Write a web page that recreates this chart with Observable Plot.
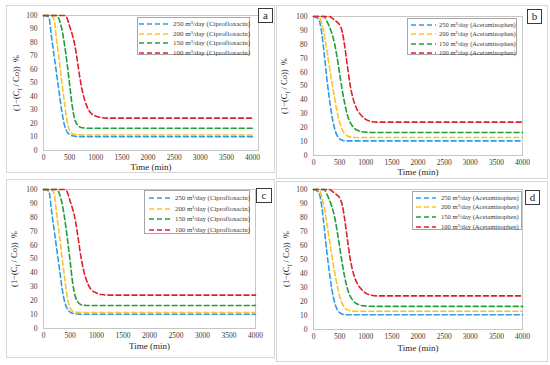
<!DOCTYPE html>
<html><head><meta charset="utf-8">
<script src="https://cdn.jsdelivr.net/npm/d3@7"></script>
<script src="https://cdn.jsdelivr.net/npm/@observablehq/plot@0.6"></script>
<style>
body{margin:0;width:550px;height:365px;background:#fff;position:relative;overflow:hidden;font-family:"Liberation Serif","Times New Roman",serif;}
.panel{position:absolute;border:1px solid #d6d6d6;box-sizing:border-box;}
.chart{position:absolute;}
.chart svg{overflow:visible;}
.legend{position:absolute;border:1px solid #a6a6a6;background:#fff;box-sizing:border-box;color:#3a3a3a;}
.row{position:absolute;left:0;white-space:nowrap;}
.tag{position:absolute;border:1px solid #3a3a3a;box-sizing:border-box;background:#fff;text-align:center;font-size:11px;color:#262626;}
.ylab{position:absolute;white-space:nowrap;font-size:8.5px;color:#262626;transform:translate(-50%,-50%) rotate(-90deg);}
</style>
</head><body>
<script>
// ---- data ----
const times = [0, 100, 150, 200, 250, 300, 350, 400, 450, 500, 550, 600, 650, 700, 750, 800, 850, 900, 1000, 1100, 1200, 1500, 4000];
const flowRates = ["250", "200", "150", "100"];
const drugs = ["Ciprofloxacin", "Acetaminophen"];
// Ciprofloxacin (panels a, c)
const cipro250 = [100, 99, 85, 71, 57, 43, 29, 19, 14, 11.8, 10.9, 10.5, 10.4, 10.3, 10.3, 10.3, 10.3, 10.3, 10.3, 10.3, 10.3, 10.3, 10.3];
const cipro200 = [100, 100, 100, 97, 82, 67, 51, 36, 22, 15, 12.4, 11.8, 11.7, 11.6, 11.5, 11.5, 11.5, 11.5, 11.5, 11.5, 11.5, 11.5, 11.5];
const cipro150 = [100, 100, 100, 100, 100, 97, 90, 79, 65, 49, 33, 23, 19, 17.3, 16.8, 16.6, 16.5, 16.5, 16.5, 16.5, 16.5, 16.5, 16.5];
const cipro100 = [100, 100, 100, 100, 100, 100, 100, 100, 98, 92, 86, 78, 66, 53, 43, 36, 31, 28, 25.5, 24.4, 24, 24, 24];
// Acetaminophen (panels b, d)
const acet250 = [100, 98, 90, 75, 57, 42, 29, 20, 14.5, 12, 11, 10.6, 10.5, 10.5, 10.5, 10.5, 10.5, 10.5, 10.5, 10.5, 10.5, 10.5, 10.5];
const acet200 = [100, 100, 96, 88, 77, 65, 53, 42, 32, 24, 18.5, 15.5, 14, 13.3, 13.1, 13, 13, 13, 13, 13, 13, 13, 13];
const acet150 = [100, 100, 100, 100, 97, 93, 88, 81, 71, 59, 47, 37, 29, 24, 21, 19, 18, 17.3, 16.8, 16.6, 16.5, 16.5, 16.5];
const acet100 = [100, 100, 100, 100, 100, 100, 99, 97.5, 96, 94, 89, 78, 64, 51, 42, 36, 32, 29.5, 26, 24.5, 24, 24, 24];
const xTicks = [0, 500, 1000, 1500, 2000, 2500, 3000, 3500, 4000];
const yTicks = [0, 10, 20, 30, 40, 50, 60, 70, 80, 90, 100];
const panelLetters = ["a", "b", "c", "d"];
const colors = ["#2f9de6", "#ffc222", "#1f9e3a", "#e0202a"];

const seriesByDrug = {
  Ciprofloxacin: [cipro250, cipro200, cipro150, cipro100],
  Acetaminophen: [acet250, acet200, acet150, acet100]
};
function rowsFor(drug){
  const out = [];
  seriesByDrug[drug].forEach((vals, i) => {
    const name = `${flowRates[i]} m³/day (${drug})`;
    vals.forEach((v, j) => out.push({t: times[j], v, series: name}));
  });
  return out;
}

// ---- layout ----
const panels = [
  {drug:drugs[0], left:6, top:5, w:269, h:168, x0:43, x1:252, fr:258, y100:15, y0:150, timeDy:19.5, ylabX:17,
   leg:{l:137,t:17,w:113,h:38,rows:[6,15.5,25,34.5],sample:[1,31],textX:35,fs:7}, tag:{l:258,t:8,w:15,h:15}},
  {drug:drugs[1], left:276, top:5, w:272, h:174, x0:313, x1:522, fr:522, y100:16, y0:155, timeDy:19, ylabX:285,
   leg:{l:407,t:18,w:110,h:37,rows:[6,15,24.5,33.5],sample:[3,28],textX:31,fs:6.5}, tag:{l:527,t:9,w:15,h:15}},
  {drug:drugs[0], left:6, top:179, w:269, h:179, x0:43, x1:255, fr:255, y100:189, y0:328, timeDy:20, ylabX:15,
   leg:{l:144,t:190,w:106,h:44,rows:[7,17.5,28,38.5],sample:[4,26],textX:30,fs:6.8}, tag:{l:256,t:188,w:16,h:15}},
  {drug:drugs[1], left:276, top:181, w:272, h:181, x0:313, x1:522, fr:522, y100:189, y0:329, timeDy:21, ylabX:287,
   leg:{l:412,t:191,w:110,h:39,rows:[5.5,15,25,34.5],sample:[3,23],textX:28,fs:6.6}, tag:{l:525,t:190,w:15,h:15}}
];

const font = '"Liberation Serif","Times New Roman",serif';

panels.forEach((p, k) => {
  const box = document.createElement("div");
  box.className = "panel";
  Object.assign(box.style, {left:p.left+"px", top:p.top+"px", width:p.w+"px", height:p.h+"px"});
  document.body.appendChild(box);

  const xMaxDomain = 4000 * (p.fr - p.x0) / (p.x1 - p.x0);
  const seriesNames = flowRates.map(f => `${f} m³/day (${p.drug})`);
  const chart = Plot.plot({
    width: p.w, height: p.h,
    marginLeft: p.x0 - p.left,
    marginRight: p.left + p.w - p.fr,
    marginTop: p.y100 - p.top,
    marginBottom: p.top + p.h - p.y0,
    style: {fontFamily: font, fontSize: "7.5px", color: "#3a3a3a", background: "transparent"},
    x: {domain: [0, xMaxDomain]},
    y: {domain: [0, 100]},
    color: {domain: seriesNames, range: colors},
    marks: [
      Plot.frame({stroke: "#c6c6c6"}),
      Plot.axisX({ticks: xTicks, tickSize: 0, tickPadding: 4.5, tickFormat: d3.format("d"), label: null}),
      Plot.axisY({ticks: yTicks, tickSize: 0, tickPadding: 6, tickFormat: d3.format("d"), label: null}),
      Plot.line(rowsFor(p.drug), {x: "t", y: "v", z: "series", stroke: "series",
        strokeWidth: 1.6, strokeDasharray: "5,3", curve: "monotone-x"}),
      Plot.text(["Time (min)"], {text: d => d, frameAnchor: "bottom", dy: p.timeDy, fontSize: 9, fill: "#262626"})
    ]
  });
  const wrap = document.createElement("div");
  wrap.className = "chart";
  Object.assign(wrap.style, {left:p.left+"px", top:p.top+"px"});
  wrap.appendChild(chart);
  document.body.appendChild(wrap);

  // y label
  const yl = document.createElement("div");
  yl.className = "ylab";
  yl.innerHTML = '(1−(C<sub style="font-size:6px">f</sub> / Co))&nbsp; %';
  Object.assign(yl.style, {left:p.ylabX+"px", top:((p.y100+p.y0)/2)+"px"});
  document.body.appendChild(yl);

  // legend
  const L = p.leg;
  const lg = document.createElement("div");
  lg.className = "legend";
  Object.assign(lg.style, {left:L.l+"px", top:L.t+"px", width:L.w+"px", height:L.h+"px"});
  seriesNames.forEach((name, i) => {
    const r = document.createElement("div");
    r.className = "row";
    r.style.top = (L.rows[i] - 5) + "px";
    r.style.height = "10px";
    r.style.width = L.w + "px";
    r.innerHTML = `<svg width="${L.sample[1]+2}" height="10" style="position:absolute;left:0;top:0"><line x1="${L.sample[0]}" x2="${L.sample[1]}" y1="5" y2="5" stroke="${colors[i]}" stroke-width="1.6" stroke-dasharray="5,3"/></svg>` +
      `<span style="position:absolute;left:${L.textX}px;top:0;line-height:10px;font-size:${L.fs}px;">${name}</span>`;
    lg.appendChild(r);
  });
  document.body.appendChild(lg);

  // tag
  const tg = document.createElement("div");
  tg.className = "tag";
  Object.assign(tg.style, {left:p.tag.l+"px", top:p.tag.t+"px", width:p.tag.w+"px", height:p.tag.h+"px", lineHeight:(p.tag.h-2)+"px"});
  tg.textContent = panelLetters[k];
  document.body.appendChild(tg);
});
</script>
</body></html>
